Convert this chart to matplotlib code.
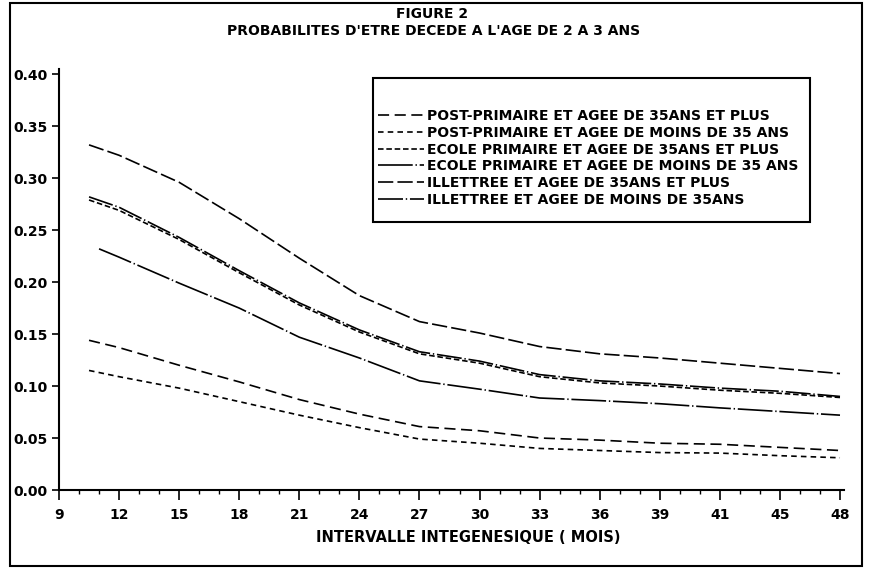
import matplotlib
matplotlib.use('Agg')
import matplotlib.pyplot as plt
from matplotlib.patches import Rectangle
from matplotlib.ticker import MultipleLocator

plt.rcParams['font.family'] = ['DejaVu Sans']
plt.rcParams['lines.scale_dashes'] = False

# ---- data ----
months = [10.5, 12, 15, 18, 21, 24, 27, 30, 33, 36, 39, 42, 45, 48]
months_b = [11, 12, 15, 18, 21, 24, 27, 30, 33, 36, 39, 42, 45, 48]

x_ticks = [9, 12, 15, 18, 21, 24, 27, 30, 33, 36, 39, 42, 45, 48]
x_tick_labels = ['9', '12', '15', '18', '21', '24', '27', '30', '33', '36', '39', '41', '45', '48']
y_ticks = [0.00, 0.05, 0.10, 0.15, 0.20, 0.25, 0.30, 0.35, 0.40]
y_tick_labels = ['0.00', '0.05', '0.10', '0.15', '0.20', '0.25', '0.30', '0.35', '0.40']

post_35plus = [0.144, 0.137, 0.120, 0.104, 0.087, 0.073, 0.061, 0.057, 0.050, 0.048, 0.045, 0.044, 0.041, 0.038]
post_moins35 = [0.115, 0.109, 0.098, 0.085, 0.072, 0.060, 0.049, 0.045, 0.040, 0.038, 0.036, 0.0355, 0.033, 0.031]
ecole_35plus = [0.279, 0.269, 0.241, 0.209, 0.178, 0.152, 0.131, 0.122, 0.109, 0.103, 0.100, 0.096, 0.093, 0.089]
ecole_moins35 = [0.232, 0.224, 0.199, 0.175, 0.147, 0.127, 0.105, 0.097, 0.0885, 0.086, 0.083, 0.079, 0.0755, 0.072]
illettree_35plus = [0.332, 0.322, 0.296, 0.261, 0.223, 0.187, 0.162, 0.151, 0.138, 0.131, 0.127, 0.122, 0.117, 0.112]
illettree_moins35 = [0.282, 0.272, 0.243, 0.211, 0.180, 0.154, 0.133, 0.124, 0.111, 0.105, 0.102, 0.098, 0.095, 0.090]

labels = [
    'POST-PRIMAIRE ET AGEE DE 35ANS ET PLUS',
    'POST-PRIMAIRE ET AGEE DE MOINS DE 35 ANS',
    'ECOLE PRIMAIRE ET AGEE DE 35ANS ET PLUS',
    'ECOLE PRIMAIRE ET AGEE DE MOINS DE 35 ANS',
    'ILLETTREE ET AGEE DE 35ANS ET PLUS',
    'ILLETTREE ET AGEE DE MOINS DE 35ANS',
]

series = [
    (months, post_35plus, (0, (8, 4))),
    (months, post_moins35, (0, (4, 3))),
    (months, ecole_35plus, (0, (4, 2))),
    (months_b, ecole_moins35, (0, (25, 2, 1, 2))),
    (months, illettree_35plus, (0, (11, 3))),
    (months, illettree_moins35, (0, (18, 2, 1, 2))),
]

W, H = 873, 573
fig = plt.figure(figsize=(W / 100, H / 100), dpi=100)
fig.patch.set_facecolor('white')

left, right, bottom_px, top_px = 59, 844, 490, 69
ax = fig.add_axes([left / W, (H - bottom_px) / H, (right - left) / W, (bottom_px - top_px) / H])

handles = []
for x, y, ls in series:
    h, = ax.plot(x, y, color='black', lw=1.2, linestyle=ls)
    handles.append(h)

ax.set_xlim(9, 48.2)
ax.set_ylim(0, 0.405)
for s in ['top', 'right']:
    ax.spines[s].set_visible(False)
for s in ['left', 'bottom']:
    ax.spines[s].set_linewidth(1.5)

ax.set_xticks(x_ticks)
ax.set_xticklabels(x_tick_labels, fontsize=10, fontweight='bold')
ax.xaxis.set_minor_locator(MultipleLocator(1))
ax.set_yticks(y_ticks)
ax.set_yticklabels(y_tick_labels, fontsize=10, fontweight='bold')
ax.tick_params(axis='x', which='major', direction='out', length=7, width=1.2, pad=6)
ax.tick_params(axis='x', which='minor', direction='out', length=3, width=1)
ax.tick_params(axis='y', direction='out', length=5, width=1.2, pad=3)

fig.text(432 / W, (H - 14) / H, 'FIGURE 2', ha='center', va='center',
         fontsize=10, fontweight='bold')
fig.text(434 / W, (H - 31) / H, "PROBABILITES D'ETRE DECEDE A L'AGE DE 2 A 3 ANS",
         ha='center', va='center', fontsize=10, fontweight='bold')
fig.text(468 / W, (H - 537) / H, 'INTERVALLE INTEGENESIQUE ( MOIS)',
         ha='center', va='center', fontsize=10.5, fontweight='bold')

# legend box
fig.patches.append(Rectangle((373 / W, (H - 222) / H), 437 / W, 144 / H,
                             transform=fig.transFigure, fill=True, facecolor='white',
                             edgecolor='black', lw=1.5, zorder=5))
leg = fig.legend(handles, labels, loc='upper left',
                 bbox_to_anchor=(378 / W, (H - 109) / H), frameon=False,
                 prop={'size': 10, 'weight': 'bold'}, handlelength=3.3,
                 handletextpad=0.2, labelspacing=0.2, borderpad=0, borderaxespad=0)
leg.set_zorder(6)

# outer frame
fig.patches.append(Rectangle((10 / W, (H - 566) / H), 852 / W, 563 / H,
                             transform=fig.transFigure, fill=False,
                             edgecolor='black', lw=1.5))

fig.savefig('out.png', dpi=100)
